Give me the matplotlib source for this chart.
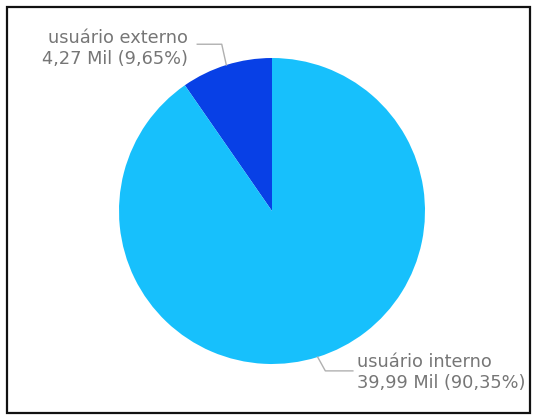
import matplotlib
matplotlib.use("Agg")
import matplotlib.pyplot as plt
from matplotlib.patches import Rectangle
import numpy as np

categories = ["usuário externo", "usuário interno"]
values = [4.27, 39.99]          # thousands
shares = [9.65, 90.35]          # percent
value_labels = ["4,27 Mil", "39,99 Mil"]
colors = ["#0840E6", "#17C0FC"]

W, H = 537, 416
fig = plt.figure(figsize=(W / 100, H / 100), dpi=100)
fig.patch.set_facecolor("white")

# outer frame
fig.patches.append(Rectangle((7 / W, 3 / H), 523 / W, 406 / H, transform=fig.transFigure,
                             fill=False, edgecolor="#111111", linewidth=1.6))

cx, cy, r = 272, 211, 153
ax = fig.add_axes([(cx - r) / W, (H - cy - r) / H, 2 * r / W, 2 * r / H])
ax.axis("off")

wedges, _ = ax.pie(values, colors=colors, startangle=90, counterclock=True,
                   radius=1, wedgeprops=dict(linewidth=0))
ax.set_xlim(-1, 1)
ax.set_ylim(-1, 1)

txt_color = "#767676"
line_color = "#b0b0b0"
font = dict(family="DejaVu Sans", size=12.8, color=txt_color)

for w, cat, vl, sh in zip(wedges, categories, value_labels, shares):
    mid = np.deg2rad((w.theta1 + w.theta2) / 2)
    px, py = np.cos(mid), np.sin(mid)
    label = f"{cat}\n{vl} ({sh:.2f}%)".replace(".", ",")
    if py > 0:
        ex, ey = px - 0.03, 1.09
        hx = ex - 0.16
        ax.plot([px, ex, hx], [py, ey, ey], color=line_color, lw=1, clip_on=False)
        ax.text(hx - 0.06, ey - 0.03, label, ha="right", va="center",
                multialignment="right", linespacing=1.2, **font)
    else:
        ex, ey = px + 0.05, -1.045
        hx = ex + 0.18
        ax.plot([px, ex, hx], [py, ey, ey], color=line_color, lw=1, clip_on=False)
        ax.text(hx + 0.03, ey - 0.01, label, ha="left", va="center",
                linespacing=1.2, **font)

fig.savefig("out.png", dpi=100)
